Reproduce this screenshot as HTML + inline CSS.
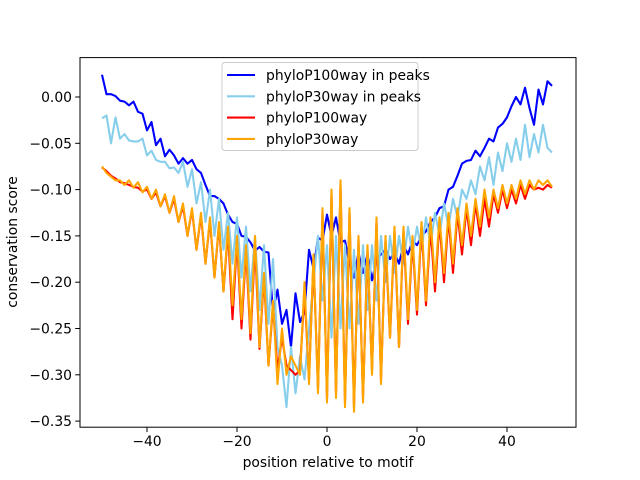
<!DOCTYPE html>
<html><head><meta charset="utf-8"><style>body{margin:0;background:#fff}svg{display:block;font-family:"DejaVu Sans","Liberation Sans",sans-serif}</style></head>
<body>
<svg id="chart" width="640" height="480" viewBox="0 0 640 480" xmlns="http://www.w3.org/2000/svg">
<rect width="640" height="480" fill="#fff"/>
<g id="plot"></g>
<rect x="80" y="57.6" width="496" height="369.6" fill="none" stroke="#000" stroke-width="1"/>
<g id="xt"></g><g id="yt"></g>
<text x="328" y="467" font-size="13.9" text-anchor="middle">position relative to motif</text>
<text transform="translate(17,242) rotate(-90)" font-size="13.9" text-anchor="middle">conservation score</text>
<g id="legend"></g>
</svg>
<script>
const xTicks=[-40,-20,0,20,40];
const yTicks=[0,-0.05,-0.10,-0.15,-0.20,-0.25,-0.30,-0.35];
const seriesNames=["phyloP100way in peaks","phyloP30way in peaks","phyloP100way","phyloP30way"];
const seriesColors=["#0000ff","#87ceeb","#ff0000","#ffa500"];
const blue=[0.024,0.003,0.003,0.001,-0.004,-0.005,-0.009,-0.005,-0.016,-0.018,
-0.036,-0.027,-0.052,-0.045,-0.064,-0.057,-0.063,-0.072,-0.066,-0.072,
-0.068,-0.078,-0.082,-0.095,-0.107,-0.107,-0.110,-0.115,-0.127,-0.135,
-0.137,-0.150,-0.151,-0.157,-0.166,-0.162,-0.167,-0.168,-0.232,-0.208,
-0.245,-0.230,-0.270,-0.212,-0.243,-0.232,-0.165,-0.185,-0.152,-0.155,
-0.127,-0.150,-0.130,-0.157,-0.155,-0.180,-0.195,-0.168,-0.190,-0.170,
-0.198,-0.175,-0.170,-0.165,-0.175,-0.168,-0.180,-0.160,-0.170,-0.155,
-0.160,-0.150,-0.145,-0.135,-0.130,-0.120,-0.118,-0.100,-0.097,-0.085,
-0.072,-0.069,-0.068,-0.058,-0.064,-0.055,-0.045,-0.048,-0.033,-0.029,
-0.022,-0.010,0.000,-0.008,0.010,-0.012,-0.030,0.008,-0.008,0.017,0.012];
const lightblue=[-0.023,-0.020,-0.050,-0.022,-0.045,-0.040,-0.047,-0.048,-0.048,-0.045,
-0.063,-0.058,-0.068,-0.070,-0.070,-0.077,-0.076,-0.082,-0.070,-0.097,
-0.078,-0.115,-0.092,-0.135,-0.100,-0.150,-0.110,-0.165,-0.125,-0.180,
-0.130,-0.195,-0.140,-0.210,-0.150,-0.230,-0.160,-0.245,-0.175,-0.270,
-0.290,-0.335,-0.270,-0.320,-0.280,-0.305,-0.250,-0.200,-0.150,-0.220,
-0.160,-0.260,-0.150,-0.250,-0.160,-0.250,-0.165,-0.245,-0.160,-0.230,
-0.160,-0.220,-0.150,-0.200,-0.150,-0.190,-0.150,-0.180,-0.140,-0.170,
-0.140,-0.165,-0.130,-0.160,-0.125,-0.150,-0.115,-0.140,-0.110,-0.130,
-0.100,-0.110,-0.090,-0.105,-0.075,-0.090,-0.065,-0.095,-0.060,-0.080,
-0.050,-0.070,-0.045,-0.068,-0.030,-0.065,-0.040,-0.060,-0.030,-0.055,-0.060];
const red=[-0.076,-0.080,-0.085,-0.088,-0.092,-0.093,-0.095,-0.097,-0.098,-0.102,
-0.100,-0.110,-0.103,-0.118,-0.107,-0.125,-0.110,-0.135,-0.118,-0.150,
-0.122,-0.165,-0.128,-0.180,-0.133,-0.195,-0.138,-0.210,-0.145,-0.240,
-0.155,-0.250,-0.165,-0.262,-0.160,-0.272,-0.195,-0.290,-0.225,-0.295,
-0.260,-0.290,-0.295,-0.300,-0.295,-0.210,-0.305,-0.175,-0.315,-0.125,
-0.325,-0.105,-0.320,-0.095,-0.330,-0.125,-0.335,-0.155,-0.325,-0.165,
-0.295,-0.135,-0.305,-0.155,-0.260,-0.145,-0.270,-0.145,-0.245,-0.155,
-0.235,-0.140,-0.225,-0.140,-0.210,-0.135,-0.200,-0.130,-0.190,-0.125,
-0.170,-0.120,-0.160,-0.115,-0.150,-0.110,-0.140,-0.105,-0.125,-0.100,
-0.120,-0.100,-0.115,-0.095,-0.110,-0.095,-0.100,-0.098,-0.100,-0.095,-0.098];
const orange=[-0.075,-0.082,-0.086,-0.090,-0.090,-0.095,-0.090,-0.098,-0.092,-0.103,
-0.097,-0.110,-0.100,-0.118,-0.105,-0.125,-0.107,-0.135,-0.115,-0.150,
-0.120,-0.165,-0.125,-0.180,-0.130,-0.195,-0.135,-0.210,-0.140,-0.225,
-0.150,-0.240,-0.160,-0.255,-0.150,-0.270,-0.190,-0.290,-0.220,-0.310,
-0.250,-0.300,-0.280,-0.290,-0.300,-0.200,-0.310,-0.170,-0.320,-0.120,
-0.330,-0.100,-0.325,-0.090,-0.335,-0.120,-0.340,-0.150,-0.330,-0.160,
-0.300,-0.130,-0.310,-0.150,-0.260,-0.140,-0.270,-0.140,-0.240,-0.150,
-0.230,-0.135,-0.220,-0.130,-0.200,-0.130,-0.190,-0.125,-0.180,-0.120,
-0.160,-0.115,-0.150,-0.110,-0.140,-0.100,-0.130,-0.100,-0.120,-0.095,
-0.115,-0.095,-0.110,-0.090,-0.105,-0.090,-0.100,-0.090,-0.095,-0.090,-0.097];
const xStart=-50;
const NS="http://www.w3.org/2000/svg";
function xs(v){return 327+v*4.5;}
function ys(v){return 97-v*926;}
function mk(t,a,p){const e=document.createElementNS(NS,t);for(const k in a)e.setAttribute(k,a[k]);p.appendChild(e);return e;}
const plot=document.getElementById('plot');
const allSeries=[blue,lightblue,red,orange];
const seriesKeys=['phylop100way-peaks-line','phylop30way-peaks-line','phylop100way-line','phylop30way-line'];
allSeries.forEach((s,i)=>{
  const d=s.map((v,j)=>(j?'L':'M')+xs(xStart+j).toFixed(2)+' '+ys(v).toFixed(2)).join(' ');
  const p=mk('path',{d:d,fill:'none',stroke:seriesColors[i],'stroke-width':2.08,'stroke-linejoin':'round'},plot);
  
  
});
const xt=document.getElementById('xt');
xTicks.forEach(t=>{
  const l=mk('line',{x1:xs(t),x2:xs(t),y1:427.2,y2:432,stroke:'#000'},xt);
  
  
  const tx=mk('text',{x:xs(t),y:446,'font-size':13.9,'text-anchor':'middle'},xt);
  tx.textContent=(t<0?'\u2212'+(-t):String(t));
  
  
});
const yt=document.getElementById('yt');
yTicks.forEach(t=>{
  const l=mk('line',{x1:75.2,x2:80,y1:ys(t),y2:ys(t),stroke:'#000'},yt);
  
  
  const tx=mk('text',{x:72,y:ys(t)+5,'font-size':13.9,'text-anchor':'end'},yt);
  tx.textContent=(t<0?'\u2212':'')+Math.abs(t).toFixed(2);
  
  
});
const lg=document.getElementById('legend');
mk('rect',{x:222,y:62.5,width:196,height:88,rx:3,fill:'#fff','fill-opacity':0.8,stroke:'#ccc'},lg);
seriesNames.forEach((n,i)=>{
  const y=75+i*21.3;
  const l=mk('line',{x1:227,x2:255,y1:y,y2:y,stroke:seriesColors[i],'stroke-width':2.08},lg);
  
  
  const tx=mk('text',{x:266,y:y+5,'font-size':13.9},lg);
  tx.textContent=n;
  
  
});
</script>
</body></html>
